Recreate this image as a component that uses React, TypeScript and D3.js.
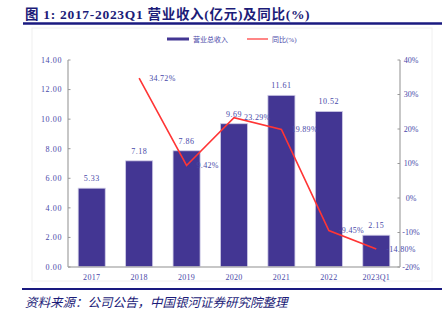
import React from "react";
import * as d3 from "d3";

const categories = ["2017", "2018", "2019", "2020", "2021", "2022", "2023Q1"];
const revenue = [5.33, 7.18, 7.86, 9.69, 11.61, 10.52, 2.15];
const yoy: (number | null)[] = [null, 34.72, 9.42, 23.29, 19.89, -9.45, -14.8];
const leftTicks = [0, 2, 4, 6, 8, 10, 12, 14];
const rightTicks = [-20, -10, 0, 10, 20, 30, 40];

const W = 448;
const H = 322;
const plot = { left: 68, right: 400, top: 60, bottom: 267 };
const barColor = "#433693";
const lineColor = "#FF3535";
const labelColor = "#4848A8";
const navy = "#1C1C78";
const serif = "'Liberation Serif', 'DejaVu Serif', 'Noto Sans CJK SC', serif";

export default function App() {
  const x = d3.scaleBand<string>().domain(categories).range([plot.left, plot.right]);
  const cx = (c: string) => (x(c) as number) + x.bandwidth() / 2;
  const bw = x.bandwidth() * 0.57;
  const yL = d3.scaleLinear().domain([0, 14]).range([plot.bottom, plot.top]);
  const yR = d3.scaleLinear().domain([-20, 40]).range([plot.bottom, plot.top]);

  const pts = categories
    .map((c, i) => ({ c, v: yoy[i] }))
    .filter((d) => d.v !== null) as { c: string; v: number }[];
  const line = d3
    .line<{ c: string; v: number }>()
    .x((d) => cx(d.c))
    .y((d) => yR(d.v));

  return (
    <svg
      width={W}
      height={H}
      style={{ position: "absolute", left: 0, top: 0, background: "#fff" }}
    >
      {/* title */}
      <text
        x={25}
        y={19}
        fontSize={13.5}
        fontWeight="bold"
        fill={navy}
        fontFamily={serif}
        letterSpacing={0.7}
      >
        图 1: 2017-2023Q1 营业收入(亿元)及同比(%)
      </text>
      <line x1={23} x2={442} y1={23.5} y2={23.5} stroke="#1A1A80" strokeWidth={2.5} />

      {/* frame */}
      <rect x={32} y={28} width={400} height={253} fill="none" stroke="#f0f0f0" strokeWidth={1} />

      {/* legend */}
      <rect x={167} y={37.5} width={22} height={3} fill={barColor} />
      <text x={193} y={41.5} fontSize={7} fill={labelColor} fontFamily={serif}>
        营业总收入
      </text>
      <line x1={247} x2={268} y1={39} y2={39} stroke={lineColor} strokeWidth={1.2} />
      <text x={272} y={41.5} fontSize={7} fill={labelColor} fontFamily={serif}>
        同比(%)
      </text>

      {/* bars */}
      {categories.map((c, i) => (
        <g key={c}>
          <rect
            x={cx(c) - bw / 2}
            y={yL(revenue[i])}
            width={bw}
            height={yL(0) - yL(revenue[i])}
            fill={barColor}
            stroke="#cfcbe6"
            strokeWidth={0.8}
          />
          <text
            x={cx(c)}
            y={yL(revenue[i]) - 7}
            textAnchor="middle"
            fontSize={8}
            fill={labelColor}
            fontFamily={serif}
            letterSpacing={0.5}
          >
            {revenue[i].toFixed(2)}
          </text>
          <text
            x={cx(c)}
            y={280}
            textAnchor="middle"
            fontSize={8}
            fill={labelColor}
            fontFamily={serif}
            letterSpacing={0.3}
          >
            {c}
          </text>
        </g>
      ))}

      {/* axes */}
      <line x1={plot.left} x2={plot.left} y1={plot.top} y2={plot.bottom} stroke="#b5b5b5" strokeWidth={1.5} />
      <line x1={plot.right} x2={plot.right} y1={plot.top} y2={plot.bottom} stroke="#b5b5b5" strokeWidth={1.5} />
      <line x1={plot.left} x2={plot.right} y1={plot.bottom} y2={plot.bottom} stroke="#b5b5b5" strokeWidth={1.5} />
      {leftTicks.map((t) => (
        <g key={"l" + t}>
          <line x1={plot.left} x2={plot.left + 2.5} y1={yL(t)} y2={yL(t)} stroke="#999" strokeWidth={1} />
          <text
            x={62}
            y={yL(t)}
            dy="0.35em"
            textAnchor="end"
            fontSize={8}
            fill={labelColor}
            fontFamily={serif}
            letterSpacing={0.6}
          >
            {t.toFixed(2)}
          </text>
        </g>
      ))}
      {rightTicks.map((t) => (
        <g key={"r" + t}>
          <line x1={plot.right - 2.5} x2={plot.right} y1={yR(t)} y2={yR(t)} stroke="#999" strokeWidth={1} />
          <text
            x={411}
            y={yR(t)}
            dy="0.35em"
            textAnchor="middle"
            fontSize={8}
            fill={labelColor}
            fontFamily={serif}
          >
            {t + "%"}
          </text>
        </g>
      ))}

      {/* line */}
      <path d={line(pts) || ""} fill="none" stroke={lineColor} strokeWidth={1.6} />
      {pts.map((d) => (
        <text
          key={"p" + d.c}
          x={cx(d.c) + 10}
          y={yR(d.v)}
          dy="0.35em"
          fontSize={8}
          fill={labelColor}
          fontFamily={serif}
          letterSpacing={0.3}
        >
          {d.v.toFixed(2) + "%"}
        </text>
      ))}

      {/* footer */}
      <line x1={22} x2={442} y1={289} y2={289} stroke="#1A1A80" strokeWidth={2} />
      <text
        x={25}
        y={307}
        fontSize={12.5}
        fontStyle="italic"
        fill={navy}
        fontFamily={serif}
      >
        资料来源：公司公告，中国银河证券研究院整理
      </text>
    </svg>
  );
}
